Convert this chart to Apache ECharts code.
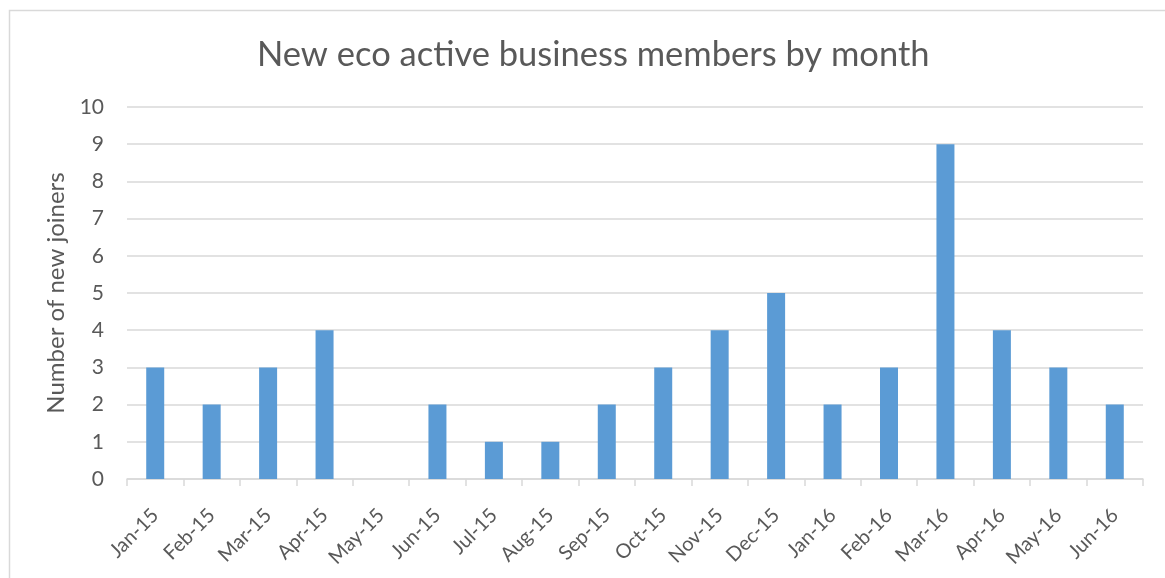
<!DOCTYPE html>
<html>
<head>
<meta charset="utf-8">
<script src="https://cdn.jsdelivr.net/npm/echarts@6/dist/echarts.min.js"></script>
<style>
  html, body { margin: 0; padding: 0; background: #fff; }
  #chart { width: 1165px; height: 578px; }
</style>
</head>
<body>
<div id="chart"></div>
<script>
var months = ["Jan-15", "Feb-15", "Mar-15", "Apr-15", "May-15", "Jun-15", "Jul-15", "Aug-15", "Sep-15",
    "Oct-15", "Nov-15", "Dec-15", "Jan-16", "Feb-16", "Mar-16", "Apr-16", "May-16", "Jun-16"];
var joiners = [3, 2, 3, 4, 0, 2, 1, 1, 2, 3, 4, 5, 2, 3, 9, 4, 3, 2];

var fontName = "Lato, 'Open Sans', sans-serif";
var textColor = "#595959";
var lineColor = "#d9d9d9";

var myChart = echarts.init(document.getElementById("chart"));
myChart.setOption({
    backgroundColor: "#fff",
    animation: false,
    textStyle: {fontFamily: fontName},
    graphic: [
        {
            type: "rect",
            left: 7, top: 8,
            shape: {width: 1200, height: 600},
            style: {fill: "none", stroke: lineColor, lineWidth: 1.5},
            silent: true
        }
    ],
    title: {
        text: "New eco active business members by month",
        left: 252,
        top: 32,
        textStyle: {fontFamily: fontName, fontSize: 34.5, fontWeight: "normal", color: textColor}
    },
    grid: {left: 127, right: 22, top: 107, bottom: 99, containLabel: false},
    xAxis: {
        type: "category",
        data: months,
        axisLine: {lineStyle: {color: lineColor, width: 1.5}},
        axisTick: {show: true, length: 7, alignWithLabel: false, lineStyle: {color: lineColor, width: 1.5}},
        axisLabel: {rotate: 45, fontSize: 20, color: textColor, margin: 33, interval: 0, fontFamily: fontName}
    },
    yAxis: {
        type: "value",
        min: 0, max: 10, interval: 1,
        name: "Number of new joiners",
        nameLocation: "middle",
        nameGap: 55,
        nameTextStyle: {fontSize: 24, color: textColor, fontFamily: fontName},
        axisLine: {show: false},
        axisTick: {show: false},
        splitLine: {lineStyle: {color: lineColor, width: 1.5}},
        axisLabel: {fontSize: 21, color: textColor, margin: 23, fontFamily: fontName}
    },
    series: [
        {
            type: "bar",
            data: joiners,
            barWidth: 18,
            itemStyle: {color: "#5b9bd5"}
        }
    ]
});
</script>
</body>
</html>
